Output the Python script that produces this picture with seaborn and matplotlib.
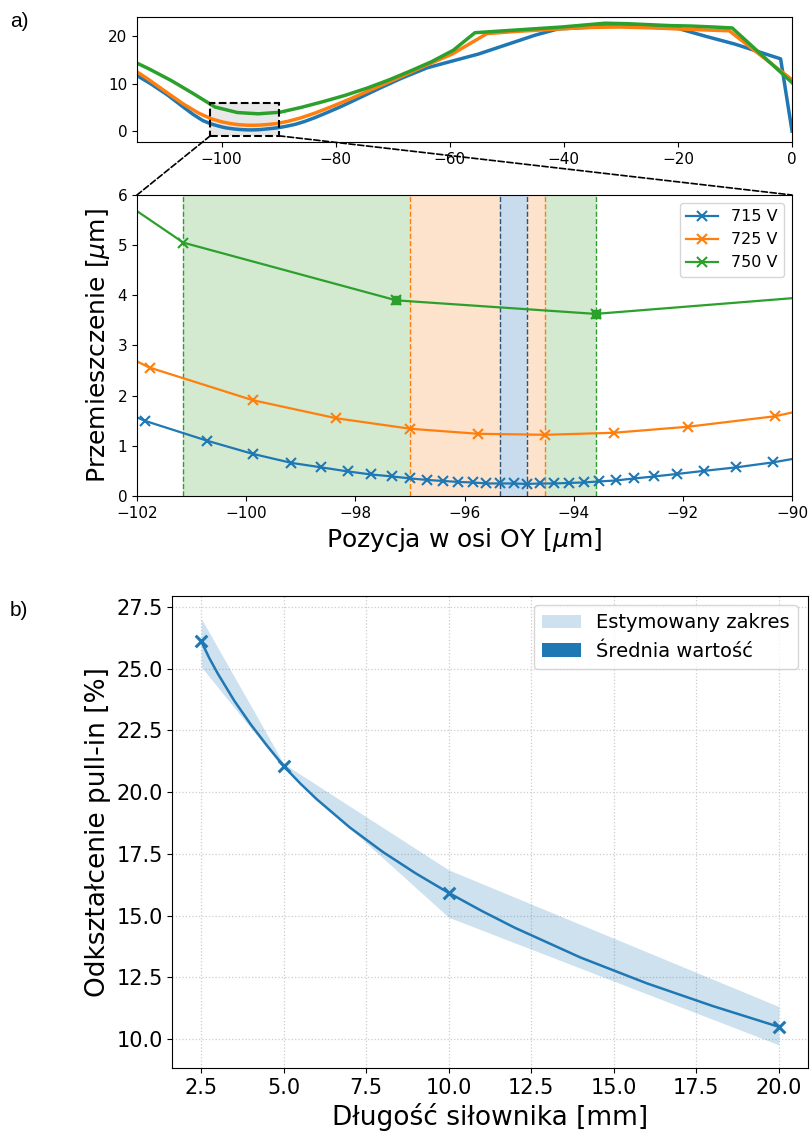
import numpy as np
import pandas as pd
import matplotlib
matplotlib.use("Agg")
import matplotlib.pyplot as plt
import seaborn as sns
from matplotlib.patches import Rectangle, ConnectionPatch, Patch

# --- dane: wykres a) ugięcie wzdłuż osi OY ---
x_715 = [-116.0, -112.5, -109.5, -107.0, -105.0, -103.3, -101.86, -100.71, -99.88, -99.17, -98.62,
         -98.14, -97.72, -97.33, -96.99, -96.69, -96.40, -96.11, -95.85, -95.60, -95.35,
         -95.10, -94.86, -94.61, -94.36, -94.09, -93.82, -93.53, -93.22, -92.89, -92.52,
         -92.10, -91.62, -91.03, -90.35, -89.4, -88.3, -87.0, -85.5, -83.7, -81.5, -79.0,
         -76.0, -72.5, -68.5, -64.0, -60.0, -55.0, -50.0, -45.0, -41.0, -36.0, -32.0,
         -26.0, -20.0, -15.0, -10.0, -2.0, 0.0]
y_715 = [12.5, 10.0, 7.6, 5.3, 3.5, 2.2, 1.50, 1.10, 0.84, 0.66, 0.57,
         0.49, 0.43, 0.39, 0.35, 0.32, 0.30, 0.28, 0.27, 0.25, 0.25,
         0.25, 0.24, 0.25, 0.25, 0.26, 0.27, 0.29, 0.31, 0.35, 0.39,
         0.44, 0.50, 0.57, 0.67, 0.85, 1.1, 1.45, 2.0, 2.8, 3.9, 5.2,
         6.9, 8.9, 11.1, 13.3, 14.6, 16.2, 18.2, 20.2, 21.5, 21.8, 22.1,
         21.9, 21.6, 19.9, 18.3, 15.2, 0.0]

x_725 = [-116.8, -113.0, -109.6, -106.6, -104.0, -101.77, -99.88, -98.35, -96.99, -95.75, -94.52,
         -93.27, -91.91, -90.31, -88.4, -86.2, -83.6, -80.6, -77.2, -73.4, -69.2,
         -64.6, -59.6, -53.5, -48.0, -42.0, -36.0, -30.0, -24.0, -18.0, -11.0, 0.0]
y_725 = [14.0, 11.0, 8.1, 5.6, 3.75, 2.56, 1.91, 1.55, 1.34, 1.24, 1.22,
         1.26, 1.38, 1.59, 2.05, 2.75, 3.8, 5.2, 6.9, 8.9, 11.1,
         13.6, 16.2, 20.5, 21.0, 21.4, 21.8, 21.9, 21.7, 21.4, 21.1, 10.8]

x_750 = [-116.4, -112.6, -108.8, -105.0, -101.15, -97.25, -93.6, -89.8, -86.0, -82.2, -78.4,
         -74.6, -70.8, -67.0, -63.2, -59.4, -55.6, -51.8, -48.0, -44.2, -40.4,
         -36.6, -32.8, -29.0, -25.2, -21.4, -17.6, -13.8, -10.5, 0.0]
y_750 = [15.2, 13.0, 10.6, 7.9, 5.05, 3.9, 3.63, 3.96, 5.0, 6.2, 7.5,
         9.0, 10.7, 12.6, 14.6, 17.0, 20.7, 21.0, 21.3, 21.6, 21.9,
         22.3, 22.7, 22.6, 22.4, 22.2, 22.1, 21.9, 21.7, 10.2]

series_names = ["715 V", "725 V", "750 V"]
series_x = [x_715, x_725, x_750]
series_y = [y_715, y_725, y_750]

# zakresy (granice) dla poszczególnych napięć
span_715 = (-95.35, -94.86)
span_725 = (-96.99, -94.52)
span_750 = (-101.15, -93.6)
square_x_750 = [-97.25, -93.6]
square_y_750 = [3.9, 3.63]

# --- dane: wykres b) ---
len_pts = [2.5, 5.0, 10.0, 20.0]
mean_pts = [26.1, 21.05, 15.9, 10.5]
band_upper = [27.03, 21.15, 16.85, 11.32]
band_lower = [25.07, 20.95, 14.93, 9.77]
curve_len = [2.5, 2.75, 3.0, 3.5, 4.0, 4.5, 5.0, 5.5, 6.0, 7.0, 8.0, 9.0, 10.0,
             11.0, 12.0, 14.0, 16.0, 18.0, 20.0]
curve_val = [26.10, 25.41, 24.80, 23.70, 22.74, 21.87, 21.05, 20.35, 19.71, 18.57, 17.58, 16.71, 15.92,
             15.19, 14.51, 13.30, 12.26, 11.34, 10.50]

colors = sns.color_palette("tab10")[:3]
span_colors = ["#c8dcee", "#fde2cc", "#d3ead0"]
vline_colors = ["#34506e", colors[1], colors[2]]

fig = plt.figure(figsize=(8.11, 11.35), dpi=100)
ax_top = fig.add_axes([0.1689, 0.8749, 0.8077, 0.1101])
ax_main = fig.add_axes([0.1689, 0.5630, 0.8077, 0.2652])
ax_b = fig.add_axes([0.2125, 0.0590, 0.7833, 0.4162])

# --- a) górny wykres poglądowy ---
for name, xs, ys, c in zip(series_names, series_x, series_y, colors):
    sns.lineplot(x=xs, y=ys, color=c, lw=2.5, sort=False, ax=ax_top)
ax_top.add_patch(Rectangle((-102, -1), 12, 7, facecolor="lightgray", alpha=0.5,
                           edgecolor="none", zorder=1))
ax_top.add_patch(Rectangle((-102, -1), 12, 7, facecolor="none", edgecolor="k",
                           ls="--", lw=1.5, zorder=5))
ax_top.set_xlim(-114.85, 0)
ax_top.set_ylim(-2.3, 24.0)
ax_top.set_xticks([-100, -80, -60, -40, -20, 0])
ax_top.set_yticks([0, 10, 20])
ax_top.tick_params(labelsize=11)

# --- a) główny wykres ---
ax_main.axvspan(*span_750, color=span_colors[2], lw=0, zorder=0)
ax_main.axvspan(*span_725, color=span_colors[1], lw=0, zorder=0)
ax_main.axvspan(*span_715, color=span_colors[0], lw=0, zorder=0)
for sp, c in zip([span_715, span_725, span_750], vline_colors):
    for v in sp:
        ax_main.axvline(v, color=c, ls="--", lw=1.0, zorder=1)

for name, xs, ys, c in zip(series_names, series_x, series_y, colors):
    sns.lineplot(x=xs, y=ys, color=c, lw=1.6, marker="x", markersize=7,
                 markeredgewidth=1.5, markeredgecolor=c, sort=False, label=name, ax=ax_main)
ax_main.plot(square_x_750, square_y_750, ls="none", marker="s", ms=6, color=colors[2], zorder=4)

ax_main.set_xlim(-102, -90)
ax_main.set_ylim(0, 6)
ax_main.set_xticks(np.arange(-102, -89, 2))
ax_main.set_yticks(range(0, 7))
ax_main.tick_params(labelsize=11)
ax_main.set_xlabel(r"Pozycja w osi OY [$\mu$m]", fontsize=18)
ax_main.set_ylabel(r"Przemieszczenie [$\mu$m]", fontsize=18)
ax_main.legend(loc="upper right", fontsize=11.5)

# linie łączące prostokąt z powiększeniem
for xc in (-102, -90):
    con = ConnectionPatch(xyA=(xc, -1), coordsA=ax_top.transData,
                          xyB=(xc, 6), coordsB=ax_main.transData,
                          color="k", ls="--", lw=1.2)
    fig.add_artist(con)

# --- b) ---
ax_b.grid(True, color="#cccccc", ls=":", lw=0.9)
ax_b.set_axisbelow(True)
ax_b.fill_between(len_pts, band_lower, band_upper, color=colors[0], alpha=0.22, lw=0)
sns.lineplot(x=curve_len, y=curve_val, color=colors[0], lw=1.8, ax=ax_b)
sns.scatterplot(x=len_pts, y=mean_pts, color=colors[0], marker="x", s=70,
                linewidth=2.2, ax=ax_b, zorder=4)
ax_b.set_xlim(1.625, 20.875)
ax_b.set_ylim(8.83, 27.95)
ax_b.set_xticks(np.arange(2.5, 20.1, 2.5))
ax_b.set_yticks(np.arange(10, 27.6, 2.5))
ax_b.tick_params(labelsize=15)
ax_b.set_xlabel("Długość siłownika [mm]", fontsize=19)
ax_b.set_ylabel("Odkształcenie pull-in [%]", fontsize=19)
handles = [Patch(facecolor=colors[0], alpha=0.22, label="Estymowany zakres"),
           Patch(facecolor=colors[0], label="Średnia wartość")]
ax_b.legend(handles=handles, loc="upper right", fontsize=14)

fig.text(0.012, 0.981, "a)", fontsize=15, family="Liberation Sans", va="center")
fig.text(0.012, 0.462, "b)", fontsize=15, family="Liberation Sans", va="center")

fig.savefig("out.png", dpi=100)
